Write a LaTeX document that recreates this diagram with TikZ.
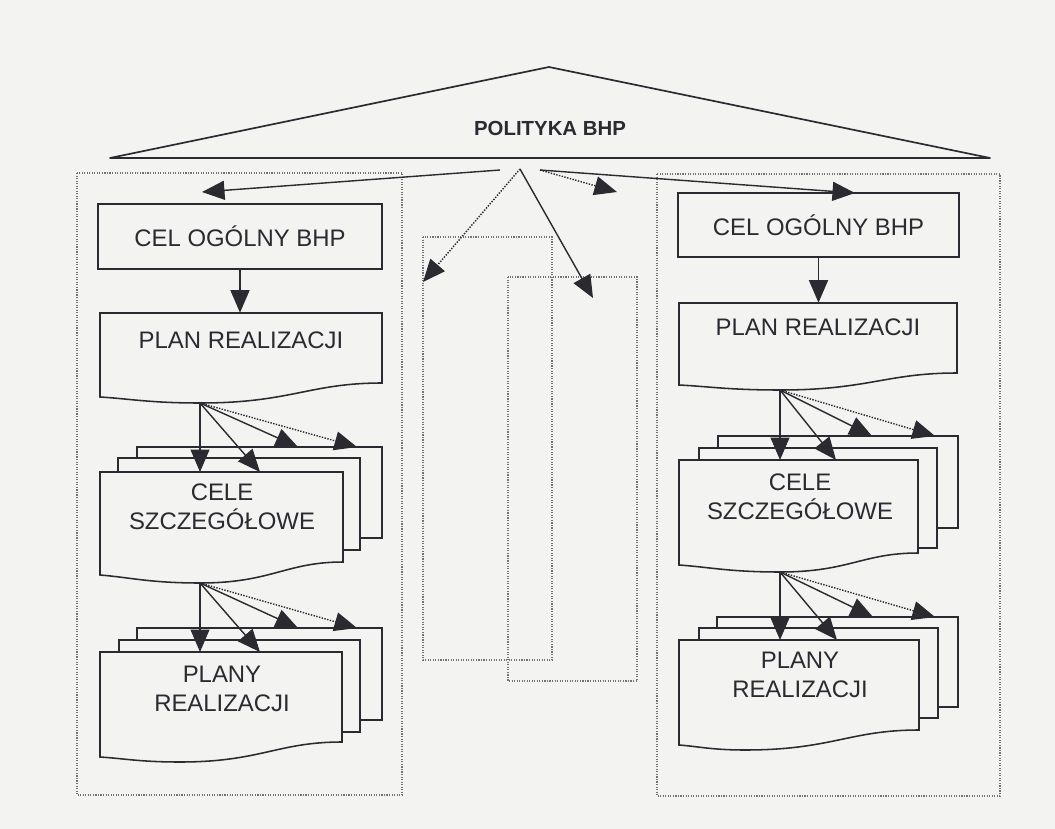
\documentclass[tikz,border=0pt]{standalone}
\usepackage{fontspec}
\setmainfont{Liberation Sans}
\usepackage{tikz}
\usetikzlibrary{arrows.meta}

\definecolor{paper}{RGB}{243,244,242}
\definecolor{ink}{RGB}{42,42,48}

% page with a wavy lower edge: left, top, right, right bottom, low x, low y, left bottom
\newcommand{\docpage}[7]{%
  \filldraw[page] (#1,#2) -- (#3,#2) -- (#3,#4)
    .. controls ({#3-0.4*(#3-#5)},#4) and ({#5+0.5*(#3-#5)},#6) .. (#5,#6)
    .. controls ({#5-0.5*(#5-#1)},#6) and ({#1+0.3*(#5-#1)},{#7+0.3*(#6-#7)}) .. (#1,#7) -- cycle;}

\begin{document}
\begin{tikzpicture}[
        x=0.025cm, y=-0.025cm,
        txt/.style={font=\fontsize{17}{20.5}\selectfont, text=ink, align=center, inner sep=0pt},
        box/.style={txt, rectangle, draw=ink, line width=1.1pt, fill=paper},
        pagetext/.style={txt, rectangle},
        page/.style={draw=ink, line width=1.1pt, fill=paper},
        frame/.style={draw=black!55, densely dotted, line width=0.8pt},
        arrow/.style={-{Triangle[length=16pt, width=13.5pt]}, line width=1pt, ink},
        dotarrow/.style={arrow, densely dotted}
    ]
        \fill[paper] (0,0) rectangle (1055,829);
        \useasboundingbox (0,0) rectangle (1055,829);

        % Roof
        \coordinate (roofL) at (110,158);
        \coordinate (roofT) at (549,67);
        \coordinate (roofR) at (990,158);
        \draw[ink, line width=1.2pt, line join=round] (roofL) -- (roofT) -- (roofR) -- cycle;
        \node[font=\bfseries\fontsize{14.5}{17}\selectfont, text=ink] (policy) at (550,128) {POLITYKA BHP};

        % Frames
        \draw[frame] (77,173) rectangle (402,795);
        \draw[frame] (657,174) rectangle (1000,796);
        \draw[frame] (423,237) rectangle (552,660);
        \draw[frame] (508,277) rectangle (637,681);

        % Left column
        \node[box, minimum width=7.1cm, minimum height=1.625cm] (celL) at (240,236.5) {CEL OGÓLNY BHP};
        \docpage{100}{313}{382}{383}{200}{403}{397}
        \node[pagetext, minimum width=7.05cm, minimum height=1.35cm] (planL) at (241,340) {PLAN REALIZACJI};
        \filldraw[page] (137,447) rectangle (382,538);
        \filldraw[page] (118,458) rectangle (360,550);
        \docpage{100}{472}{343}{562}{200}{583}{575}
        \node[pagetext, minimum width=6.075cm, minimum height=1.75cm] (celeL) at (222,507) {CELE\\SZCZEGÓŁOWE};
        \filldraw[page] (137,628) rectangle (382,720);
        \filldraw[page] (119,640) rectangle (360,732);
        \docpage{100}{652}{342}{742}{180}{762}{757}
        \node[pagetext, minimum width=6.05cm, minimum height=1.825cm] (planyL) at (222,688.5) {PLANY\\REALIZACJI};

        % Right column
        \node[box, minimum width=7.025cm, minimum height=1.6cm] (celR) at (818.5,225) {CEL OGÓLNY BHP};
        \docpage{679}{303}{957}{373}{780}{390}{385}
        \node[pagetext, minimum width=6.95cm, minimum height=1.2cm] (planR) at (818,327) {PLAN REALIZACJI};
        \filldraw[page] (718,436) rectangle (958,528);
        \filldraw[page] (699,448) rectangle (937,548);
        \docpage{679}{460}{918}{553}{780}{572}{565}
        \node[pagetext, minimum width=5.975cm, minimum height=1.825cm] (celeR) at (800,496.5) {CELE\\SZCZEGÓŁOWE};
        \filldraw[page] (717,617) rectangle (958,707);
        \filldraw[page] (699,628) rectangle (938,718);
        \docpage{679}{640}{919}{730}{745}{750}{745}
        \node[pagetext, minimum width=6cm, minimum height=1.75cm] (planyR) at (800,675) {PLANY\\REALIZACJI};

        % Arrow ends
        \coordinate (hubL) at (500,170);
        \coordinate (hubC) at (520,169);
        \coordinate (hubR) at (540,170);
        \coordinate (toCelL) at (202,192);
        \coordinate (toMidA) at (423,282);
        \coordinate (toMidB) at (593,298);
        \coordinate (toGap) at (617,192);
        \coordinate (toCelR) at (855,193);

        \coordinate (planL-b) at (200,403);
        \coordinate (celeL-1) at (200,472);
        \coordinate (celeL-2) at (260,472);
        \coordinate (celeL-3) at (298,447);
        \coordinate (celeL-4) at (357,447);
        \coordinate (celeL-b) at (200,583);
        \coordinate (planyL-1) at (200,652);
        \coordinate (planyL-2) at (260,652);
        \coordinate (planyL-3) at (298,628);
        \coordinate (planyL-4) at (357,628);

        \coordinate (planR-b) at (780,390);
        \coordinate (celeR-1) at (780,460);
        \coordinate (celeR-2) at (836,460);
        \coordinate (celeR-3) at (872,436);
        \coordinate (celeR-4) at (935,436);
        \coordinate (celeR-b) at (780,572);
        \coordinate (planyR-1) at (780,640);
        \coordinate (planyR-2) at (837,640);
        \coordinate (planyR-3) at (873,617);
        \coordinate (planyR-4) at (935,617);

        % Arrows
        \draw[arrow] (hubL) -- (toCelL);
        \draw[dotarrow] (hubC) -- (toMidA);
        \draw[arrow] (hubC) -- (toMidB);
        \draw[dotarrow] (hubR) -- (toGap);
        \draw[arrow] (hubR) -- (toCelR);

        \draw[arrow] (celL.south) -- (celL.south |- planL.north);
        \draw[arrow] (celR.south) -- (celR.south |- planR.north);

        \foreach \src/\dst in {planL-b/celeL, celeL-b/planyL, planR-b/celeR, celeR-b/planyR} {
            \foreach \i in {1,2,3}
                \draw[arrow] (\src) -- (\dst-\i);
            \draw[dotarrow] (\src) -- (\dst-4);
        }
    \end{tikzpicture}
\end{document}
